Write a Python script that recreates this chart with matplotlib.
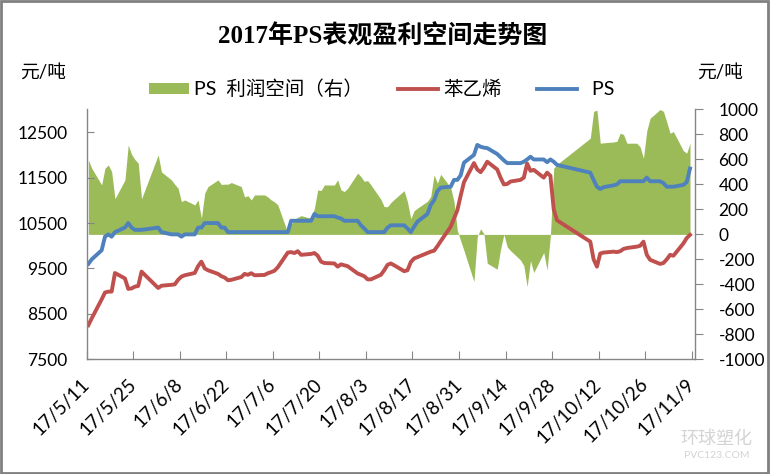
import matplotlib
matplotlib.use('Agg')
import matplotlib.pyplot as plt
import pandas as pd
from matplotlib.patches import Rectangle, Patch
from matplotlib.lines import Line2D

plt.rcParams['font.family'] = ['Lato', 'Noto Sans CJK SC', 'DejaVu Sans']

# ---------------- data ----------------
dates = [
    # May
    '2017-05-11', '2017-05-12', '2017-05-15', '2017-05-16', '2017-05-17', '2017-05-18', '2017-05-19',
    '2017-05-22', '2017-05-23', '2017-05-24', '2017-05-25', '2017-05-26', '2017-05-27',
    # June
    '2017-06-01', '2017-06-02', '2017-06-05', '2017-06-06', '2017-06-07', '2017-06-08', '2017-06-09',
    '2017-06-12', '2017-06-13', '2017-06-14', '2017-06-15', '2017-06-16', '2017-06-19', '2017-06-20',
    '2017-06-21', '2017-06-22', '2017-06-23', '2017-06-26', '2017-06-27', '2017-06-28', '2017-06-29',
    '2017-06-30',
    # July
    '2017-07-03', '2017-07-04', '2017-07-05', '2017-07-06', '2017-07-07', '2017-07-10', '2017-07-11',
    '2017-07-12', '2017-07-13', '2017-07-14', '2017-07-17', '2017-07-18', '2017-07-19', '2017-07-20',
    '2017-07-21', '2017-07-24', '2017-07-25', '2017-07-26', '2017-07-27', '2017-07-28', '2017-07-31',
    # August
    '2017-08-01', '2017-08-02', '2017-08-03', '2017-08-04', '2017-08-07', '2017-08-08', '2017-08-09',
    '2017-08-10', '2017-08-11', '2017-08-14', '2017-08-15', '2017-08-16', '2017-08-17', '2017-08-18',
    '2017-08-21', '2017-08-22', '2017-08-23', '2017-08-24', '2017-08-25', '2017-08-28', '2017-08-29',
    '2017-08-30', '2017-08-31',
    # September
    '2017-09-01', '2017-09-04', '2017-09-05', '2017-09-06', '2017-09-07', '2017-09-08', '2017-09-11',
    '2017-09-12', '2017-09-13', '2017-09-14', '2017-09-15', '2017-09-18', '2017-09-19', '2017-09-20',
    '2017-09-21', '2017-09-22', '2017-09-25', '2017-09-26', '2017-09-27', '2017-09-28', '2017-09-29',
    # October
    '2017-10-09', '2017-10-10', '2017-10-11', '2017-10-12', '2017-10-13', '2017-10-16', '2017-10-17',
    '2017-10-18', '2017-10-19', '2017-10-20', '2017-10-23', '2017-10-24', '2017-10-25', '2017-10-26',
    '2017-10-27', '2017-10-30', '2017-10-31',
    # November
    '2017-11-01', '2017-11-02', '2017-11-03', '2017-11-06', '2017-11-07', '2017-11-08',
]

profit = [
    596, 530, 396, 530, 556, 503, 285, 436, 716, 640, 600, 570, 285,
    636, 500, 436, 400, 369, 262, 276, 236, 276, 129, 330, 383, 436, 400, 402, 402, 415, 383, 300, 310, 276, 316,
    316, 300, 276, 260, 236, 10, 80, 120, 137, 150, 129, 209, 356, 351, 396, 395, 436, 356, 343, 369, 490,
    463, 425, 431, 396, 281, 222, 222, 255, 280, 350, 260, 125, 190, 210, 265, 303, 476, 410, 481, 375, 262, 30, -50,
    -130, -378, -18, 44, 5, -231, -279, -120, 0, -100, -130, -205, -250, -418, -210, -305, -145, -285, -10, 530, 560,
    770, 985, 995, 730, 733, 740, 745, 810, 800, 730, 730, 700, 610, 830, 930, 1000, 985,
    900, 810, 823, 670, 650, 730,
]

ps_price = [
    9600, 9700, 9900, 10200, 10250, 10200, 10300, 10400, 10500, 10400, 10350, 10350, 10350,
    10400, 10300, 10250, 10250, 10250, 10200, 10250, 10250, 10400, 10400, 10500, 10500, 10500, 10400, 10400,
    10300, 10300, 10300, 10300, 10300, 10300, 10300,
    10300, 10300, 10300, 10300, 10300, 10300, 10550, 10550, 10550, 10550, 10550, 10700, 10650, 10650, 10650,
    10650, 10620, 10600, 10550, 10550, 10550,
    10450, 10380, 10300, 10300, 10300, 10300, 10400, 10450, 10450, 10450, 10380, 10300, 10420, 10530, 10700,
    10900, 11000, 11200, 11280, 11300, 11450, 11450, 11550,
    11830, 12000, 12220, 12180, 12160, 12150, 12020, 11950, 11880, 11820, 11820, 11820, 11850, 11900, 11960,
    11900, 11900, 11840, 11900, 11850, 11780,
    11610, 11450, 11300, 11250, 11290, 11330, 11350, 11420, 11420, 11420, 11420, 11420, 11420, 11500, 11420,
    11420, 11380,
    11300, 11300, 11300, 11340, 11400, 11700,
]

sm_price = [
    8250, 8400, 8820, 8970, 8990, 8990, 9400, 9280, 9050, 9060, 9100, 9115, 9430,
    9070, 9120, 9140, 9150, 9250, 9320, 9350, 9400, 9550, 9650, 9500, 9460, 9380, 9330, 9300, 9240, 9250,
    9310, 9380, 9360, 9395, 9350,
    9357, 9395, 9420, 9450, 9527, 9850, 9860, 9840, 9880, 9800, 9820, 9840, 9780, 9650, 9620, 9610, 9540,
    9590, 9570, 9550, 9390,
    9360, 9330, 9260, 9260, 9360, 9460, 9580, 9610, 9570, 9440, 9460, 9640, 9720, 9750, 9840, 9870, 9890,
    9990, 10100, 10420, 10600, 10780, 11100,
    11400, 11820, 11680, 11620, 11720, 11850, 11680, 11500, 11350, 11360, 11414, 11450, 11500, 11810, 11650,
    11670, 11500, 11610, 11540, 10800, 10560,
    10090, 9700, 9540, 9830, 9850, 9870, 9860, 9880, 9930, 9950, 9980, 10000, 10090, 9800, 9690, 9600, 9620,
    9700, 9800, 9780, 10050, 10170, 10240,
]

tick_dates = ['2017-05-11', '2017-05-25', '2017-06-08', '2017-06-22', '2017-07-06', '2017-07-20',
              '2017-08-03', '2017-08-17', '2017-08-31', '2017-09-14', '2017-09-28', '2017-10-12',
              '2017-10-26', '2017-11-09']
tick_labels = ['17/5/11', '17/5/25', '17/6/8', '17/6/22', '17/7/6', '17/7/20', '17/8/3', '17/8/17',
               '17/8/31', '17/9/14', '17/9/28', '17/10/12', '17/10/26', '17/11/9']
left_ticks = [7500, 8500, 9500, 10500, 11500, 12500]
right_ticks = [-1000, -800, -600, -400, -200, 0, 200, 400, 600, 800, 1000]

title = '2017年PS表观盈利空间走势图'
legend_labels = ['PS  利润空间（右）', '苯乙烯', '  PS']
unit = '元/吨'

GREEN = '#9BBB59'
RED = '#C0504D'
BLUE = '#4F81BD'
AXIS = '#868686'

# ---------------- figure ----------------
fig = plt.figure(figsize=(7.7, 4.74), dpi=100)
ax = fig.add_axes([0.1126, 0.2420, 0.7900, 0.5270])
ax2 = ax.twinx()

# each day sits in the middle of its date slot (Excel date-axis style)
x = pd.to_datetime(dates) + pd.Timedelta(hours=12)

ax2.fill_between(x, profit, 0, color=GREEN, linewidth=0)
ax.plot(x, sm_price, color=RED, lw=2.8, solid_joinstyle='round')
ax.plot(x, ps_price, color=BLUE, lw=2.8, solid_joinstyle='round')

ax.set_zorder(2)
ax2.set_zorder(1)
ax.patch.set_visible(False)

ax.set_xlim(pd.Timestamp('2017-05-11'), pd.Timestamp('2017-11-10'))
ax.set_ylim(7500, 13000)
ax2.set_ylim(-1000, 1000)

ax.set_yticks(left_ticks)
ax.set_yticklabels([str(v) for v in left_ticks])
ax2.set_yticks(right_ticks)
ax2.set_yticklabels([str(v) for v in right_ticks])

ax.set_xticks(pd.to_datetime(tick_dates))
ax.set_xticklabels(tick_labels, rotation=45, ha='right', va='center', rotation_mode='anchor')

for a in (ax, ax2):
    for s in a.spines.values():
        s.set_color(AXIS)
        s.set_linewidth(1.0)
    a.spines['top'].set_visible(False)
ax.spines['right'].set_visible(False)
ax2.spines['left'].set_visible(False)
ax2.spines['bottom'].set_visible(False)

ax.tick_params(axis='y', direction='in', length=5, color=AXIS, labelsize=12.5, pad=14, right=False)
ax.tick_params(axis='x', direction='in', length=6, color=AXIS, labelsize=13.5, pad=16)
ax2.tick_params(axis='y', direction='out', length=6, color=AXIS, labelsize=12.5, pad=11)

# title, units
fig.text(0.4965, 1 - 36 / 474, title, ha='center', va='center', fontsize=18, fontweight='bold',
         family=['Liberation Serif', 'Noto Sans CJK SC'])
fig.text(20 / 770, 1 - 72 / 474, unit, ha='left', va='center', fontsize=13.5)
fig.text(697 / 770, 1 - 72 / 474, unit, ha='left', va='center', fontsize=13.5)

# legend
handles = [Patch(facecolor=GREEN, edgecolor='none'),
           Line2D([], [], color=RED, lw=2.8),
           Line2D([], [], color=BLUE, lw=2.8)]
fig.legend(handles, legend_labels, loc='center', bbox_to_anchor=(0.4957, 1 - 89 / 474), ncol=3,
           frameon=False, fontsize=14, handlelength=2.05, handleheight=0.52, handletextpad=0.28,
           columnspacing=1.8, borderaxespad=0, borderpad=0)

# watermark
fig.text(716 / 770, 1 - 439 / 474, '环球塑化', ha='center', va='center', fontsize=13, color='#d4d4d4')
fig.text(717 / 770, 1 - 455 / 474, 'PVC123.COM', ha='center', va='center', fontsize=7.5, color='#d4d4d4')

# outer frame
fig.patches.append(Rectangle((0.001, 0.002), 0.997, 0.996, transform=fig.transFigure, fill=False,
                             edgecolor='#808080', linewidth=2))

fig.savefig('out.png', dpi=100)
